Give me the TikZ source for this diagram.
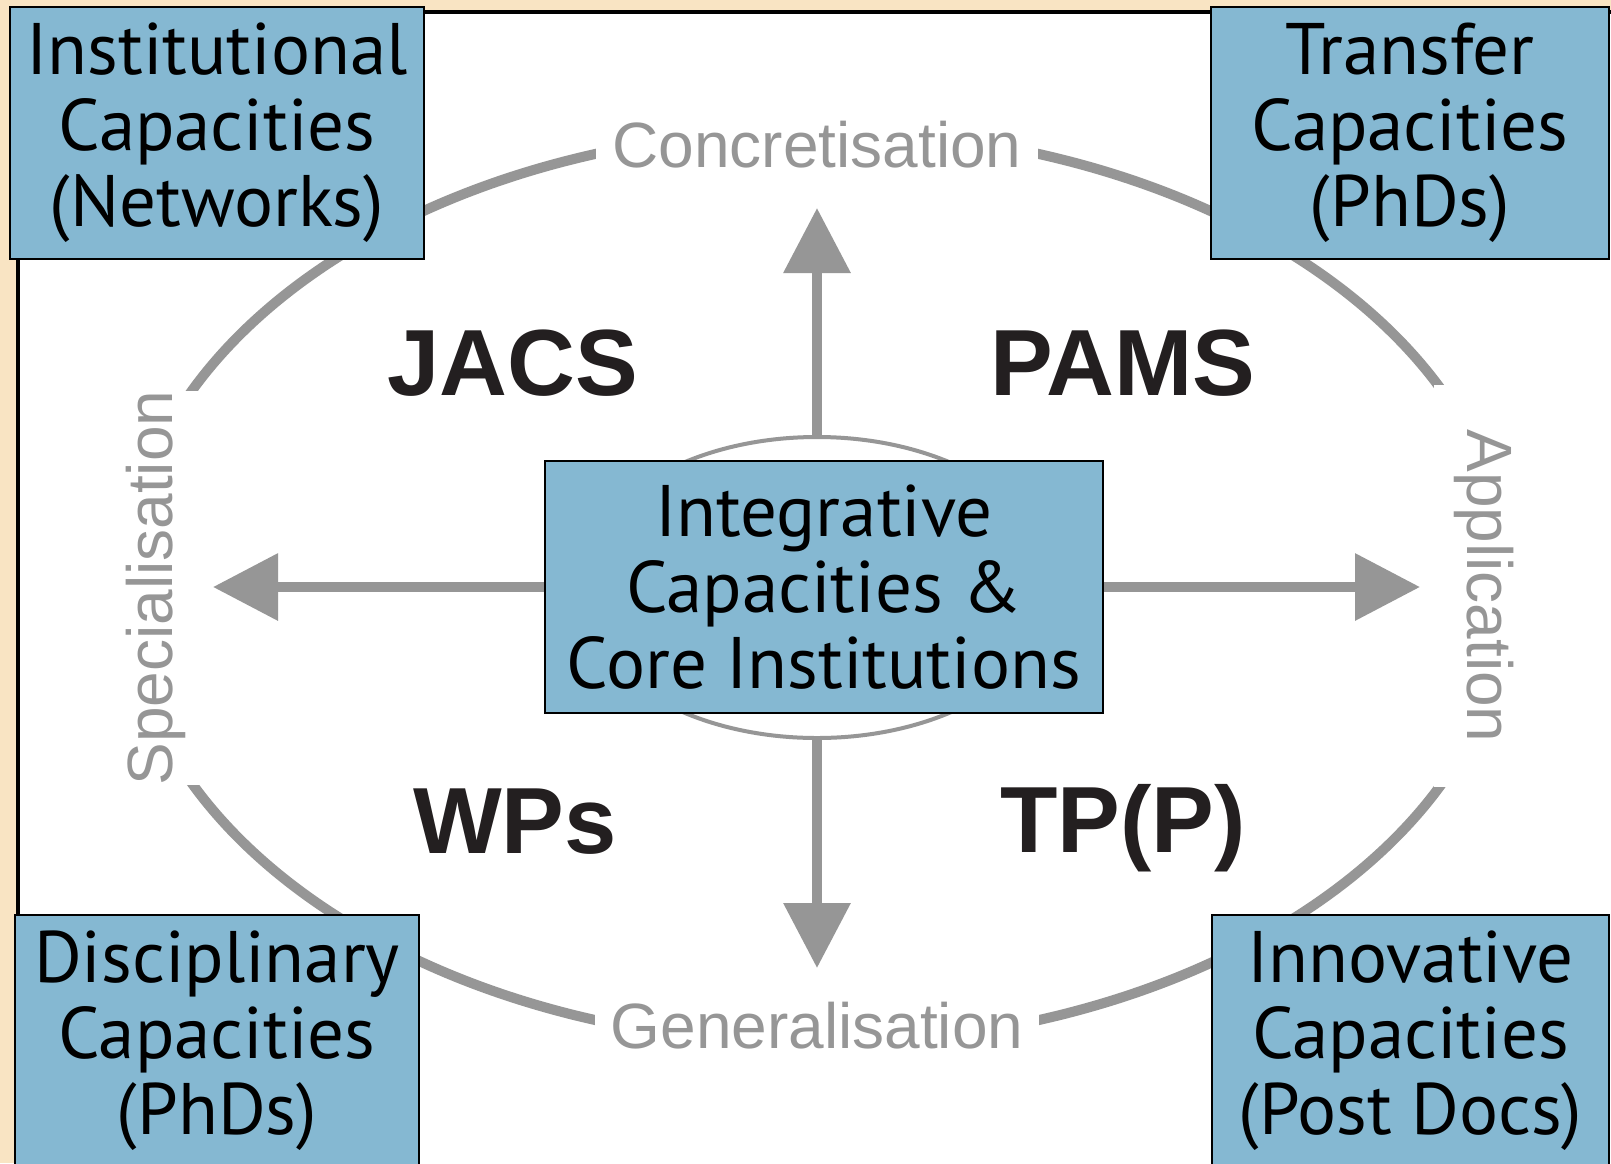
\documentclass[tikz,border=0pt]{standalone}
\usepackage{fontspec}
\setmainfont{PT Sans}
\newfontfamily\helv{Liberation Sans}
\usetikzlibrary{arrows.meta,shapes.geometric}
\definecolor{sand}{RGB}{249,228,195}
\definecolor{capblue}{RGB}{133,184,210}
\definecolor{axisgray}{RGB}{150,150,150}
\definecolor{ink}{RGB}{35,31,32}
\tikzset{
    capbox/.style={draw=black,line width=1pt,fill=capblue,align=center,
        inner sep=0pt,minimum height=126pt,font=\fontsize{36.5}{38}\selectfont},
    axislabel/.style={anchor=base,text=axisgray,fill=white,
        font=\helv\fontsize{32}{36}\selectfont},
    quadrant/.style={anchor=base,text=ink,font=\helv\bfseries\fontsize{47}{50}\selectfont},
    axisarrow/.style={draw=axisgray,line width=5pt,
        -{Triangle[length=32.5pt,width=32.5pt]}}
}

\begin{document}
\begin{tikzpicture}[x=0.5pt,y=-0.5pt]
    \useasboundingbox (0,0) rectangle (1611,1163);
    \fill[sand] (0,0) rectangle (1611,1163);
    \draw[fill=white,line width=2pt] (17.5,11.5) rectangle (1660,1210);
    \path[coordinate] (817,587)  coordinate(O)
                      (817,208)  coordinate(tipN)
                      (817,968)  coordinate(tipS)
                      (213,587)  coordinate(tipW)
                      (1420,587) coordinate(tipE);
    \draw[axisgray,line width=5pt] (O) ellipse [x radius=346pt,y radius=228.5pt];
    \node[axislabel,inner xsep=8pt,inner ysep=5pt] (concr) at (817,167) {Concretisation};
    \node[axislabel,inner xsep=8pt,inner ysep=5pt] (gener) at (817,1048) {Generalisation};
    \node[axislabel,rotate=90,inner xsep=0pt,inner ysep=8pt] (spec) at (172,588) {Specialisation};
    \node[axislabel,rotate=-90,inner xsep=22pt,inner ysep=10pt] (appl) at (1467,586) {Application};
    \node[ellipse,draw=axisgray,line width=2pt,minimum width=239pt,
          minimum height=150.5pt,inner sep=0pt] (ring) at (817,587.5) {};
    \node[capbox,minimum width=279pt] (core) at (824,587)
        {Integrative\\Capacities \&\\Core Institutions};
    \draw[axisarrow] (ring.north) -- (tipN);
    \draw[axisarrow] (ring.south) -- (tipS);
    \draw[axisarrow] (core.west) -- (tipW);
    \draw[axisarrow] (core.east) -- (tipE);
    \node[capbox,minimum width=207pt] (inst) at (217,133)
        {Institutional\\Capacities\\(Networks)};
    \node[capbox,minimum width=199pt] (trans) at (1410,132.5)
        {Transfer\\Capacities\\(PhDs)};
    \node[capbox,minimum width=202pt] (disc) at (217,1041)
        {Disciplinary\\Capacities\\(PhDs)};
    \node[capbox,minimum width=198.5pt] (innov) at (1410.5,1041)
        {Innovative\\Capacities\\(Post Docs)};
    \foreach \x/\y/\txt/\nm in {513/395/JACS/jacs,1123/395/PAMS/pams,
                                515/853/WPs/wps,1123/852/{TP(P)}/tpp}{%
        \node[quadrant] (\nm) at (\x,\y) {\txt};
    }
\end{tikzpicture}
\end{document}
